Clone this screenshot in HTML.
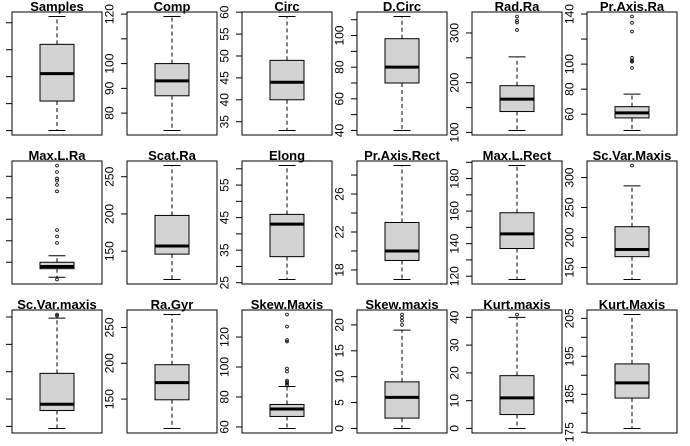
<!DOCTYPE html>
<html><head><meta charset="utf-8"><style>
html,body{margin:0;padding:0;background:#fff;}
svg{display:block;font-family:"Liberation Sans",sans-serif;}
</style></head><body>
<svg id="chart" width="690" height="446" viewBox="0 0 690 446"></svg>
<script>
const names = ["Samples","Comp","Circ","D.Circ","Rad.Ra","Pr.Axis.Ra","Max.L.Ra","Scat.Ra","Elong","Pr.Axis.Rect","Max.L.Rect","Sc.Var.Maxis","Sc.Var.maxis","Ra.Gyr","Skew.Maxis","Skew.maxis","Kurt.maxis","Kurt.Maxis"];
// [lowerWhisker, Q1, median, Q3, upperWhisker]
const stats = [
 [1,219,423,640,846],
 [73,87,93,100,119],
 [33,40,44,49,59],
 [40,70,80,98,112],
 [104,142,167,194,252],
 [47,57,61,66,76],
 [3,7,8,10,13],
 [112,146,157,198,265],
 [26,33,43,46,61],
 [17,19,20,23,29],
 [118,137,146,159,188],
 [130,168,180,218,286],
 [185,316,362,588,992],
 [109,149,173,198,268],
 [59,67,72,75,87],
 [0,2,6,9,19],
 [0,5,11,19,40],
 [176,184,188,193,206]
];
const outliers = [
 [],[],[],[],
 [306,321,325,333],
 [97,102,102,103,105,126,133,138],
 [2,19,22,25,43,46,48,49,52,55],
 [],[],[],[],
 [320],
 [1010,1018],
 [],
 [88,89,90,91,97,99,117,118,127,135],
 [20,20.8,21.4,22],
 [41],
 []
];
const ticks = [
 [0,200,400,600,800],
 [80,90,100,110,120],
 [35,40,45,50,55,60],
 [40,50,60,70,80,90,100,110],
 [100,150,200,250,300],
 [60,80,100,120,140],
 [10,20,30,40,50],
 [150,200,250],
 [25,30,35,40,45,50,55,60],
 [18,20,22,24,26,28],
 [120,130,140,150,160,170,180,190],
 [150,200,250,300],
 [200,400,600,800,1000],
 [150,200,250],
 [60,80,100,120],
 [0,5,10,15,20],
 [0,10,20,30,40],
 [175,180,185,190,195,200,205]
];
const tickLabels = [
 ["0","200","400","600","800"],
 ["80","90","100","","120"],
 ["35","40","45","50","55","60"],
 ["40","","60","","80","","100",""],
 ["100","","200","","300"],
 ["60","80","100","","140"],
 ["10","20","30","40","50"],
 ["150","200","250"],
 ["25","","35","","45","","55",""],
 ["18","","22","","26",""],
 ["120","","140","","160","","180",""],
 ["150","200","250","300"],
 ["200","400","600","800","1000"],
 ["150","200","250"],
 ["60","80","100","120"],
 ["0","5","10","15","20"],
 ["0","10","20","30","40"],
 ["175","","185","","195","","205"]
];

const svg = document.getElementById('chart');
const NS = 'http://www.w3.org/2000/svg';
function mk(tag, attrs, parent){
  const e = document.createElementNS(NS, tag);
  for (const k in attrs) e.setAttribute(k, attrs[k]);
  parent.appendChild(e);
  return e;
}
const colX = [12,127,242,357,472,587];
const rowY = [12,161,310];
const PW = 90, PH = 123;

names.forEach((nm, i) => {
  const r = Math.floor(i/6), c = i%6;
  const L = colX[c], T = rowY[r], R = L+PW, B = T+PH;
  const s = stats[i], o = outliers[i];
  const lo0 = Math.min(s[0], ...o), hi0 = Math.max(s[4], ...o);
  const rng = hi0 - lo0;
  const lo = lo0 - 0.04*rng, hi = hi0 + 0.04*rng;
  const y = v => B - (v - lo)/(hi - lo)*PH;
  const cx = L + PW/2;

  const g = mk('g', {}, svg);
  
  

  // ticks and labels
  ticks[i].forEach((t, k) => {
    const ty = y(t);
    const tk = mk('line', {x1:L-6, x2:L, y1:ty, y2:ty, stroke:'#000', 'stroke-width':1}, g);
    
    
    if (tickLabels[i][k]) {
      const tx = L - 13.5;
      const lb = mk('text', {x:tx, y:ty, 'font-size':12, 'text-anchor':'middle', transform:`rotate(-90 ${tx} ${ty})`, fill:'#000'}, g);
      lb.textContent = tickLabels[i][k];
      
      
    }
  });

  // whiskers
  const w1 = mk('line', {x1:cx, x2:cx, y1:y(s[3]), y2:y(s[4]), stroke:'#000', 'stroke-dasharray':'4,3'}, g);
  
  
  const w2 = mk('line', {x1:cx, x2:cx, y1:y(s[1]), y2:y(s[0]), stroke:'#000', 'stroke-dasharray':'4,3'}, g);
  
  
  const c1 = mk('line', {x1:cx-8.5, x2:cx+8.5, y1:y(s[4]), y2:y(s[4]), stroke:'#000'}, g);
  
  
  const c2 = mk('line', {x1:cx-8.5, x2:cx+8.5, y1:y(s[0]), y2:y(s[0]), stroke:'#000'}, g);
  
  

  // box
  const bx = mk('rect', {x:cx-17, y:y(s[3]), width:34, height:y(s[1])-y(s[3]), fill:'#d3d3d3', stroke:'#000', 'stroke-width':1}, g);
  
  
  const md = mk('line', {x1:cx-17, x2:cx+17, y1:y(s[2]), y2:y(s[2]), stroke:'#000', 'stroke-width':3}, g);
  
  

  // outliers
  o.forEach(v => {
    const p = mk('circle', {cx:cx, cy:y(v), r:1.4, fill:'none', stroke:'#000', 'stroke-width':0.8}, g);
    
    
  });

  // frame
  const fr = mk('rect', {x:L, y:T, width:PW, height:PH, fill:'none', stroke:'#000', 'stroke-width':1}, g);
  
  

  // title
  const tt = mk('text', {x:cx, y:T-1, 'font-size':13, 'font-weight':'bold', 'text-anchor':'middle', fill:'#000'}, g);
  tt.textContent = nm;
  
  
});
</script>
</body></html>
